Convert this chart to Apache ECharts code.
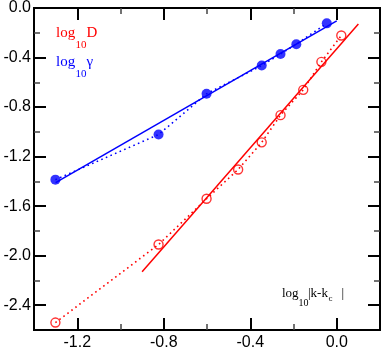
<!DOCTYPE html>
<html>
<head>
<meta charset="utf-8">
<script src="https://cdn.jsdelivr.net/npm/echarts@6/dist/echarts.min.js"></script>
<style>
  html, body { margin: 0; padding: 0; background: #fff; }
  #chart { width: 382px; height: 351px; }
</style>
</head>
<body>
<div id="chart"></div>
<script>
  // log10|k-kc| and the two quantities
  const gammaX = [-1.301, -0.824, -0.602, -0.347, -0.260, -0.187, -0.046]
  const gammaY = [-1.386, -1.022, -0.693, -0.465, -0.371, -0.292, -0.124]
  const dX = [-1.301, -0.824, -0.602, -0.456, -0.347, -0.260, -0.155, -0.071, 0.021]
  const dY = [-2.540, -1.910, -1.540, -1.304, -1.085, -0.865, -0.661, -0.435, -0.222]
  // straight fits, end points only
  const gammaFitX = [-1.3, 0.0]
  const gammaFitY = [-1.41, -0.104]
  const dFitX = [-0.9, 0.1]
  const dFitY = [-2.13, -0.13]

  // ticks
  const xMajor = [-1.2, -0.8, -0.4, 0.0]
  const xMinor = [-1.0, -0.6, -0.2]
  const yMajor = [0.0, -0.4, -0.8, -1.2, -1.6, -2.0, -2.4]
  const yMinor = [-0.2, -0.6, -1.0, -1.4, -1.8, -2.2]

  const zip = (xs, ys) => xs.map((x, i) => [x, ys[i]])
  const blue = '#0000ff'
  const red = '#ff0000'
  const serif = '"Liberation Serif", "Times New Roman", serif'

  const makeAxis = (kind, pos, ticks, len, labels) => ({
    type: 'value',
    position: pos,
    min: kind === 'x' ? -1.4 : -2.6,
    max: kind === 'x' ? 0.2 : 0,
    axisLine: { show: true, onZero: false, lineStyle: { color: '#000', width: 2 } },
    axisTick: {
      show: true,
      inside: true,
      length: len,
      customValues: ticks,
      lineStyle: { color: len > 8 ? '#000' : '#444', width: len > 8 ? 2 : 1.5 },
    },
    axisLabel: labels
      ? {
          customValues: ticks,
          formatter: (v) => v.toFixed(1),
          fontFamily: '"Liberation Sans", Arial, sans-serif',
          fontSize: 16,
          color: '#000',
          margin: kind === 'x' ? 5 : 3,
        }
      : { show: false },
    splitLine: { show: false },
  })

  // text pieces placed by baseline
  const txt = (t, x, base, size, color) => ({
    type: 'text',
    silent: true,
    style: {
      text: t,
      x: x,
      y: base - 0.34 * size,
      font: size + 'px ' + serif,
      fill: color,
      align: 'left',
      verticalAlign: 'middle',
    },
  })

  const options = {
    animation: false,
    grid: { left: 34, top: 6, right: 2, bottom: 18 },
    xAxis: [
      makeAxis('x', 'bottom', xMajor, 12, true),
      makeAxis('x', 'bottom', xMinor, 6, false),
      makeAxis('x', 'top', xMajor, 12, false),
      makeAxis('x', 'top', xMinor, 6, false),
    ],
    yAxis: [
      makeAxis('y', 'left', yMajor, 12, true),
      makeAxis('y', 'left', yMinor, 6, false),
      makeAxis('y', 'right', yMajor, 12, false),
      makeAxis('y', 'right', yMinor, 6, false),
    ],
    series: [
      {
        name: 'gamma dots',
        type: 'line',
        data: zip(gammaX, gammaY),
        showSymbol: false,
        symbol: 'none',
        lineStyle: { color: blue, width: 1.6, type: [1.6, 3.4] },
      },
      {
        name: 'gamma fit',
        type: 'line',
        data: zip(gammaFitX, gammaFitY),
        showSymbol: false,
        symbol: 'none',
        lineStyle: { color: blue, width: 1.5 },
      },
      {
        name: 'gamma',
        type: 'scatter',
        data: zip(gammaX, gammaY),
        symbol: 'circle',
        symbolSize: 10,
        itemStyle: { color: blue },
      },
      {
        name: 'D dots',
        type: 'line',
        data: zip(dX, dY),
        showSymbol: false,
        symbol: 'none',
        lineStyle: { color: red, width: 1.6, type: [1.6, 3.4] },
      },
      {
        name: 'D fit',
        type: 'line',
        data: zip(dFitX, dFitY),
        showSymbol: false,
        symbol: 'none',
        lineStyle: { color: red, width: 1.5 },
      },
      {
        name: 'D',
        type: 'scatter',
        data: zip(dX, dY),
        symbol: 'circle',
        symbolSize: 9,
        itemStyle: { color: 'rgba(0,0,0,0)', borderColor: red, borderWidth: 1.4 },
      },
    ],
    graphic: [
      txt('log', 56, 38, 15, red),
      txt('10', 75.5, 49, 11, red),
      txt('D', 86.5, 38, 15, red),
      txt('log', 56, 66.7, 15, blue),
      txt('10', 75.5, 77.5, 11, blue),
      txt('γ', 86.5, 66.7, 15, blue),
      txt('log', 282, 298.3, 13, '#000'),
      txt('10', 298.5, 306.5, 10, '#000'),
      txt('|k-k', 308, 298.3, 13, '#000'),
      txt('c', 328.5, 301.5, 9, '#000'),
      txt('|', 341.5, 298.3, 13, '#000'),
    ],
  }

  const chart = echarts.init(document.getElementById('chart'))
  chart.setOption(options)
  window.addEventListener('resize', function () {
    chart && chart.resize()
  })
</script>
</body>
</html>
